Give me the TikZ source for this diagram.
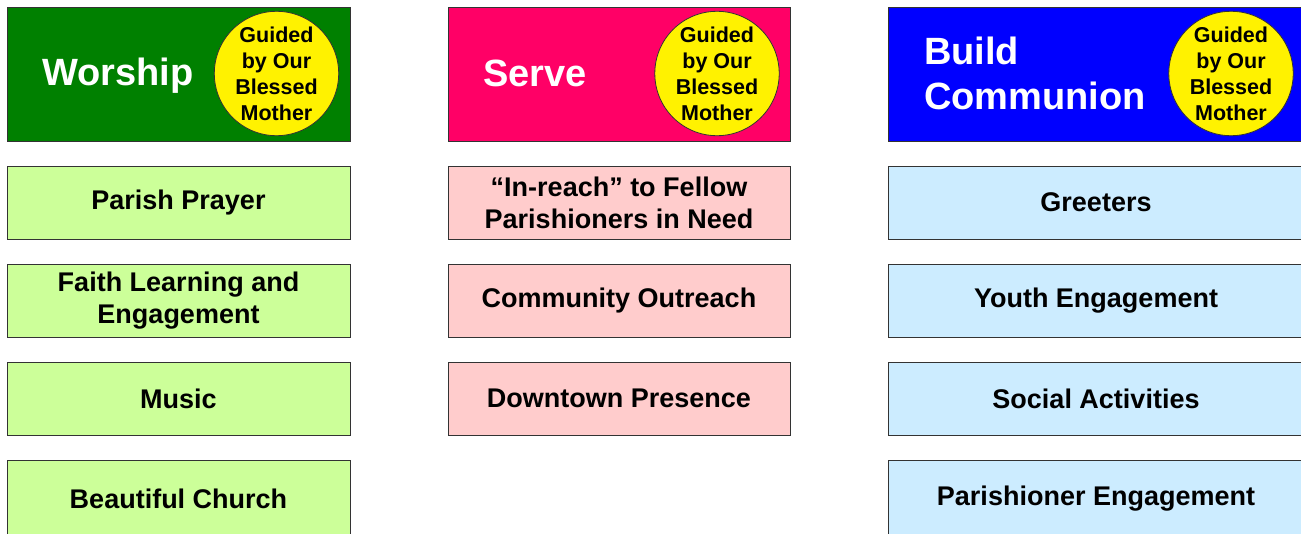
\documentclass[tikz,border=0pt]{standalone}
\usepackage{fontspec}
\setmainfont{Liberation Sans}
\definecolor{hgreen}{HTML}{008000}
\definecolor{hpink}{HTML}{FF0066}
\definecolor{hblue}{HTML}{0000FF}
\definecolor{lgreen}{HTML}{CCFF99}
\definecolor{lpink}{HTML}{FFCCCC}
\definecolor{lblue}{HTML}{CCECFF}
\definecolor{edge}{HTML}{333333}
\tikzset{
  header/.style={draw=edge, line width=1pt, rectangle, inner sep=0pt, minimum height=134pt},
  item/.style={draw=edge, line width=1pt, rectangle, inner sep=0pt, minimum height=73pt, align=center,
    font=\fontsize{27}{32}\selectfont\bfseries},
  lastitem/.style={item, minimum height=78pt},
  badge/.style={draw=edge, line width=0.8pt, circle, fill=yellow, inner sep=0pt, minimum size=122pt, align=center,
    font=\fontsize{21.5}{26}\selectfont\bfseries},
  htext/.style={text=white, align=left, font=\fontsize{38}{45}\selectfont\bfseries, inner sep=0pt},
}
\begin{document}
\begin{tikzpicture}[x=1pt,y=-1pt]
\useasboundingbox (0,0) rectangle (1301,533);
\clip (0,0) rectangle (1301,533);
% headers
\node[header, fill=hgreen, minimum width=343pt] (h1) at (178.5,74) {};
\node[header, fill=hpink, minimum width=342pt] (h2) at (619,74) {};
\node[header, fill=hblue, minimum width=416pt] (h3) at (1096,74) {};
\node[htext] (t1) at (118,76) {Worship};
\node[htext] (t2) at (535,73) {Serve};
\node[htext, anchor=west] (t3) at (924,73) {Build\\Communion};
\node[badge] (c1) at (276.5,73.5) {Guided\\by Our\\Blessed\\Mother};
\node[badge] (c2) at (717,73.5) {Guided\\by Our\\Blessed\\Mother};
\node[badge] (c3) at (1231,73.5) {Guided\\by Our\\Blessed\\Mother};
% left column
\node[item, fill=lgreen, minimum width=343pt] (w1) at (178.5,202.5) {Parish Prayer};
\node[item, fill=lgreen, minimum width=343pt] (w2) at (178.5,300.5) {Faith Learning and\\Engagement};
\node[item, fill=lgreen, minimum width=343pt] (w3) at (178.5,398.5) {Music};
\node[lastitem, fill=lgreen, minimum width=343pt] (w4) at (178.5,499) {Beautiful Church};
% middle column
\node[item, fill=lpink, minimum width=342pt] (s1) at (619,202.5) {“In-reach” to Fellow\\Parishioners in Need};
\node[item, fill=lpink, minimum width=342pt] (s2) at (619,300.5) {Community Outreach};
\node[item, fill=lpink, minimum width=342pt] (s3) at (619,398.5) {Downtown Presence};
% right column
\node[item, fill=lblue, minimum width=416pt] (b1) at (1096,202.5) {Greeters};
\node[item, fill=lblue, minimum width=416pt] (b2) at (1096,300.5) {Youth Engagement};
\node[item, fill=lblue, minimum width=416pt] (b3) at (1096,398.5) {Social Activities};
\node[lastitem, fill=lblue, minimum width=416pt] (b4) at (1096,499) {Parishioner Engagement};
\end{tikzpicture}
\end{document}
